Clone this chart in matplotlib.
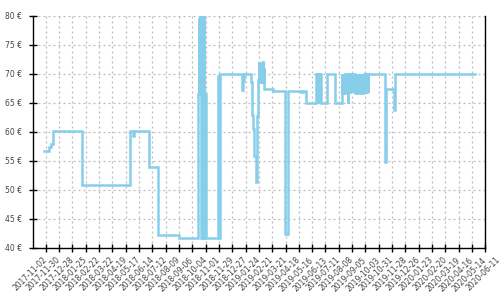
import matplotlib
matplotlib.use("Agg")
import matplotlib.pyplot as plt
import pandas as pd

# ---- data (change points, drawn as steps-post) ----
dates = [
    "2017-10-29", "2017-11-08", "2017-11-12", "2017-11-17", "2018-01-18",
    "2018-04-27", "2018-05-04", "2018-05-06", "2018-06-07", "2018-06-25",
    "2018-08-08", "2018-09-18", "2018-09-20", "2018-09-21", "2018-09-22",
    "2018-09-23", "2018-09-24", "2018-09-25", "2018-09-26", "2018-09-27",
    "2018-09-28", "2018-09-29", "2018-09-30", "2018-10-01", "2018-10-02",
    "2018-10-03", "2018-10-04", "2018-10-29", "2018-11-01", "2018-11-04",
    "2018-12-19", "2018-12-20", "2018-12-22", "2018-12-23", "2019-01-07",
    "2019-01-09", "2019-01-12", "2019-01-14", "2019-01-17", "2019-01-19",
    "2019-01-21", "2019-01-22", "2019-01-24", "2019-01-25", "2019-01-26",
    "2019-01-27", "2019-01-28", "2019-01-29", "2019-01-30", "2019-01-31",
    "2019-02-01", "2019-02-02", "2019-02-03", "2019-02-04", "2019-02-22",
    "2019-03-20", "2019-03-27", "2019-04-22", "2019-04-27", "2019-05-03",
    "2019-05-23", "2019-05-24", "2019-05-25", "2019-05-26", "2019-05-27",
    "2019-05-28", "2019-05-29", "2019-05-30", "2019-05-31", "2019-06-01",
    "2019-06-02", "2019-06-03", "2019-06-16", "2019-07-03", "2019-07-17",
    "2019-07-18", "2019-07-19", "2019-07-20", "2019-07-21", "2019-07-22",
    "2019-07-23", "2019-07-24", "2019-07-25", "2019-07-26", "2019-07-27",
    "2019-07-28", "2019-07-29", "2019-07-30", "2019-07-31", "2019-08-01",
    "2019-08-02", "2019-08-03", "2019-08-04", "2019-08-05", "2019-08-06",
    "2019-08-07", "2019-08-08", "2019-08-09", "2019-08-10", "2019-08-11",
    "2019-08-12", "2019-08-13", "2019-08-14", "2019-08-15", "2019-08-16",
    "2019-08-17", "2019-08-18", "2019-08-19", "2019-08-20", "2019-08-21",
    "2019-08-22", "2019-08-23", "2019-08-24", "2019-08-25", "2019-08-26",
    "2019-08-27", "2019-08-28", "2019-08-29", "2019-08-30", "2019-08-31",
    "2019-09-01", "2019-09-02", "2019-09-03", "2019-09-04", "2019-09-05",
    "2019-09-06", "2019-09-07", "2019-09-08", "2019-09-09", "2019-09-10",
    "2019-09-11", "2019-10-17", "2019-10-18", "2019-11-03", "2019-11-06",
    "2020-04-22",
]
prices = [
    56.7, 57.4, 57.8, 60.1, 50.7,
    60.1, 59.3, 60.1, 53.8, 42.2,
    41.7, 66.4, 79.5, 66.4, 80.0,
    66.4, 80.0, 41.7, 80.0, 41.7,
    80.0, 41.7, 80.0, 66.4, 41.7,
    66.4, 41.7, 69.6, 41.7, 70.0,
    68.8, 67.2, 68.8, 70.0, 68.5,
    62.8, 60.5, 55.7, 51.3, 56.5,
    62.6, 68.9, 72.0, 69.0, 71.5,
    68.5, 71.0, 68.5, 72.0, 69.0,
    72.2, 68.5, 71.0, 67.3, 67.0,
    42.4, 67.0, 66.8, 67.0, 65.0,
    70.0, 65.0, 70.0, 65.0, 70.0,
    65.0, 69.8, 65.0, 70.0, 65.0,
    70.0, 65.0, 70.0, 65.0, 70.0,
    66.6, 70.0, 66.6, 69.9, 66.6,
    70.0, 66.7, 70.0, 66.6, 70.0,
    66.8, 70.0, 65.0, 70.0, 66.6,
    69.9, 66.7, 70.0, 66.9, 70.0,
    66.8, 70.0, 66.9, 69.8, 66.9,
    70.0, 66.9, 70.0, 66.7, 69.9,
    66.9, 70.0, 66.9, 70.0, 66.6,
    70.0, 66.9, 69.9, 66.9, 70.0,
    66.7, 70.0, 66.9, 70.0, 66.6,
    69.9, 66.9, 70.0, 66.7, 70.0,
    66.9, 70.0, 66.7, 70.0, 66.9,
    70.0, 54.8, 67.3, 63.8, 70.0,
    70.0,
]

tick_start = "2017-11-02"
tick_end = "2020-06-11"
tick_step_days = 28
y_ticks = [40, 45, 50, 55, 60, 65, 70, 75, 80]
x_range = ("2017-10-06", "2020-05-14")
y_range = (40, 80)

d = pd.to_datetime(dates)
x_ticks = pd.date_range(tick_start, tick_end, freq=f"{tick_step_days}D")
x_lo, x_hi = pd.Timestamp(x_range[0]), pd.Timestamp(x_range[1])
in_ticks = [t for t in x_ticks if t <= x_hi]
out_ticks = [t for t in x_ticks if t > x_hi]

fig = plt.figure(figsize=(5, 3), dpi=100)
ax = fig.add_axes([0.066, 0.175, 0.9046, 0.773])

ax.plot(d, prices, drawstyle="steps-post", color="#87CEEB", lw=1.8,
        solid_joinstyle="miter", zorder=3)

ax.set_xlim(x_lo, x_hi)
ax.set_ylim(*y_range)
ax.set_xticks(in_ticks)
ax.set_xticklabels([t.strftime("%Y-%m-%d") for t in in_ticks])
ax.set_yticks(y_ticks)
ax.set_yticklabels([f"{v} €" for v in y_ticks])

ax.grid(True, color="#bdbdbd", lw=0.9, linestyle=(0, (1.6, 2.4)), zorder=0)
ax.set_axisbelow(True)

for s in ["left", "bottom", "right"]:
    ax.spines[s].set_color("black")
    ax.spines[s].set_linewidth(1.0)
ax.spines["top"].set_visible(False)

tick_len = 6
tick_pad = 5
label_size = 5.5
label_color = "#444444"
ax.tick_params(axis="both", direction="inout", length=tick_len, width=1.0,
               color="black", labelsize=label_size, labelcolor=label_color,
               pad=tick_pad)
ax.tick_params(axis="y", right=False)
for lab in ax.get_xticklabels():
    lab.set_rotation(45)
    lab.set_ha("right")
    lab.set_va("center")
    lab.set_rotation_mode("anchor")

# label for the tick that lies just past the right edge (still shown in reference)
trans, _, _ = ax.get_xaxis_text1_transform(tick_pad + tick_len / 2)
for t in out_ticks:
    ax.text(t, 0, t.strftime("%Y-%m-%d"), transform=trans, rotation=45,
            ha="right", va="center", rotation_mode="anchor",
            fontsize=label_size, color=label_color, clip_on=False)

fig.savefig("out.png", dpi=100)
